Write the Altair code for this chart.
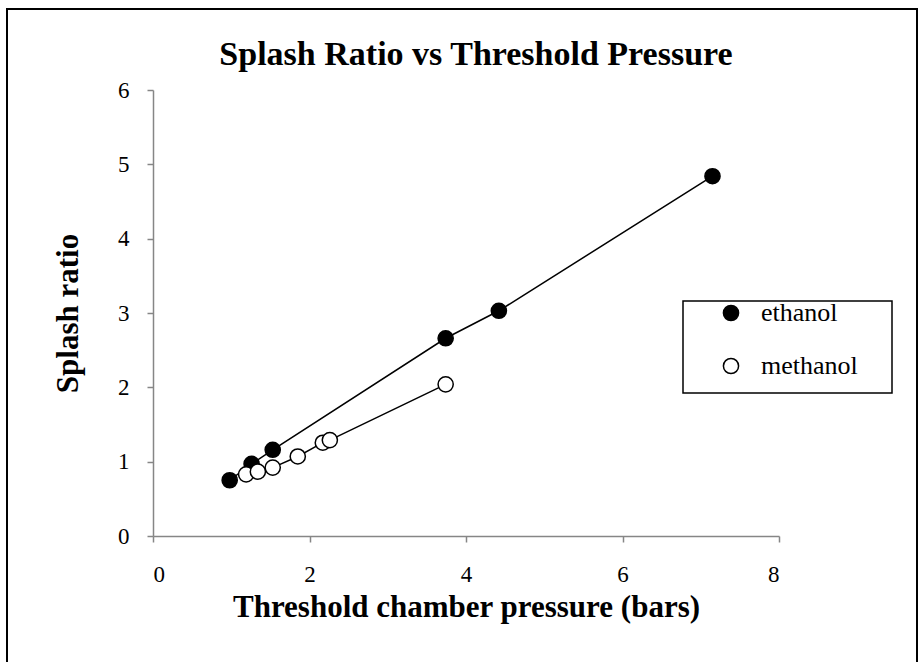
import altair as alt
import pandas as pd

# ---- data ----
ethanol_x = [0.98, 1.26, 1.53, 3.74, 4.42, 7.15]
ethanol_y = [0.75, 0.97, 1.16, 2.66, 3.03, 4.84]
methanol_x = [1.19, 1.34, 1.53, 1.85, 2.17, 2.26, 3.74]
methanol_y = [0.83, 0.865, 0.92, 1.07, 1.255, 1.29, 2.04]
series_names = ["ethanol", "methanol"]
x_ticks = [0, 2, 4, 6, 8]
y_ticks = [0, 1, 2, 3, 4, 5, 6]
title_text = "Splash Ratio vs Threshold Pressure"
x_title = "Threshold chamber pressure (bars)"
y_title = "Splash ratio"

rows = []
for i, (x, y) in enumerate(zip(ethanol_x, ethanol_y)):
    rows.append({"series": series_names[0], "x": x, "y": y, "order": i})
for i, (x, y) in enumerate(zip(methanol_x, methanol_y)):
    rows.append({"series": series_names[1], "x": x, "y": y, "order": i})
df = pd.DataFrame(rows)

FONT = "Liberation Serif"
W, H = 626, 446
PAD_L, PAD_T = 153, 90

xscale = alt.Scale(domain=[0, 8], nice=False, zero=True)
yscale = alt.Scale(domain=[0, 6], nice=False, zero=True)

xenc = alt.X("x:Q", scale=xscale,
             axis=alt.Axis(values=x_ticks, format="d", title=x_title, labelPadding=21,
                           titleBaseline="middle", titleY=71))
yenc = alt.Y("y:Q", scale=yscale,
             axis=alt.Axis(values=y_ticks, format="d", title=y_title, labelPadding=18,
                           titleBaseline="middle", titleX=-85))

base = alt.Chart(df)

lines = base.mark_line(color="black", strokeWidth=1.5).encode(
    x=xenc, y=yenc, detail="series:N", order="order:Q"
)

points = base.mark_point(shape="circle", size=230, strokeWidth=1.5,
                         opacity=1, fillOpacity=1).encode(
    x=alt.X("x:Q", scale=xscale),
    y=alt.Y("y:Q", scale=yscale),
    stroke=alt.value("black"),
    fill=alt.Fill("series:N",
                  scale=alt.Scale(domain=series_names, range=["black", "white"]),
                  legend=alt.Legend(title=None, orient="none", legendX=565, legendY=210,
                                    labelFont=FONT, labelFontSize=26, labelColor="black",
                                    symbolType="circle", symbolSize=230,
                                    symbolStrokeColor="black", symbolStrokeWidth=1.5,
                                    labelOffset=17, rowPadding=27, padding=0,
                                    symbolOffset=0)),
)

one = pd.DataFrame({"k": [0]})

legend_box = alt.Chart(one).mark_rect(fill=None, stroke="black", strokeWidth=1.5).encode(
    x=alt.value(530), x2=alt.value(739), y=alt.value(211), y2=alt.value(303)
)

border = alt.Chart(one).mark_rect(fill=None, stroke="black", strokeWidth=2).encode(
    x=alt.value(7 - PAD_L), x2=alt.value(917 - PAD_L),
    y=alt.value(9 - PAD_T), y2=alt.value(700 - PAD_T)
)

title = alt.Chart(pd.DataFrame({"t": [title_text]})).mark_text(
    font=FONT, fontSize=34, fontWeight="bold", color="black",
    baseline="middle", align="center"
).encode(text="t:N", x=alt.value(476 - PAD_L), y=alt.value(55 - PAD_T))

chart = alt.layer(border, legend_box, lines, points, title).properties(
    width=W, height=H,
    autosize=alt.AutoSizeParams(type="none"),
    padding={"left": PAD_L, "top": PAD_T, "right": 924 - PAD_L - W, "bottom": 662 - PAD_T - H},
    background="white",
).configure_view(stroke=None).configure_axis(
    grid=False,
    domainColor="#868686", tickColor="#868686", domainWidth=1.5, tickWidth=1.5,
    tickSize=6,
    labelFont=FONT, labelFontSize=23, labelColor="black",
    titleFont=FONT, titleFontSize=31, titleFontWeight="bold", titleColor="black",
)

chart.save("out.html", embed_options={"renderer": "svg", "actions": False})
